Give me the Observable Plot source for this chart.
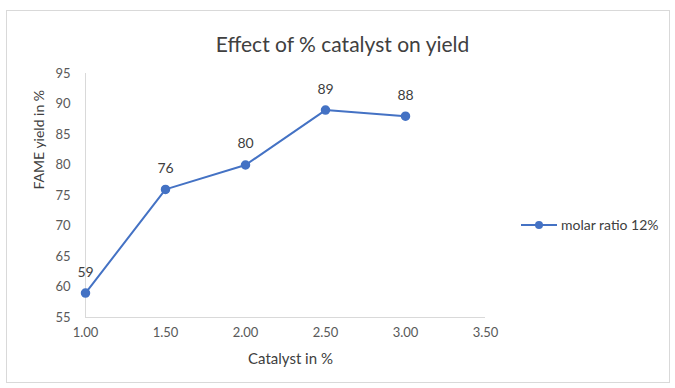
<!DOCTYPE html>
<html>
<head>
<meta charset="utf-8">
<script src="https://cdn.jsdelivr.net/npm/d3@7"></script>
<script src="https://cdn.jsdelivr.net/npm/@observablehq/plot@0.6"></script>
<style>
  html, body { margin: 0; padding: 0; background: #fff; }
  svg { display: block; }
</style>
</head>
<body>
<div id="chart"></div>
<script>
const catalyst = [1.0, 1.5, 2.0, 2.5, 3.0];
const yieldPct = [59, 76, 80, 89, 88];
const xTicks = [1.0, 1.5, 2.0, 2.5, 3.0, 3.5];
const yTicks = [55, 60, 65, 70, 75, 80, 85, 90, 95];
const seriesName = "molar ratio 12%";
const title = "Effect of % catalyst on yield";
const xLabel = "Catalyst in %";
const yLabel = "FAME yield in %";

const data = catalyst.map((c, i) => ({x: c, y: yieldPct[i]}));
const blue = "#4472C4";
const grey = "#595959";
const font = "Lato, 'Open Sans', sans-serif";

const chart = Plot.plot({
  width: 675,
  height: 388,
  marginLeft: 85,
  marginRight: 190,
  marginTop: 73,
  marginBottom: 71,
  style: {fontFamily: font, fontSize: "13px", color: grey, background: "#fff"},
  x: {domain: [1, 3.5], label: null},
  y: {domain: [55, 95], label: null},
  marks: [
    Plot.ruleY([55], {stroke: "#d9d9d9", strokeWidth: 1}),
    Plot.ruleX([1], {stroke: "#d9d9d9", strokeWidth: 1}),
    Plot.axisX({ticks: xTicks, tickFormat: d3.format(".2f"), tickSize: 0, tickPadding: 10, fill: grey, fontSize: 13, label: null}),
    Plot.axisY({ticks: yTicks, tickSize: 0, tickPadding: 15, fill: grey, fontSize: 13, label: null}),
    Plot.line(data, {x: "x", y: "y", stroke: blue, strokeWidth: 2}),
    Plot.dot(data, {x: "x", y: "y", r: 4, fill: blue, stroke: blue}),
    Plot.text(data, {x: "x", y: "y", text: d => String(d.y), dy: -21, fill: "#404040", fontSize: 14}),
    Plot.text([title], {frameAnchor: "top", dx: 57, dy: -36, fill: "#404040", fontSize: 21}),
    Plot.text([xLabel], {frameAnchor: "bottom", dx: 5, dy: 46, fill: "#404040", fontSize: 15}),
    Plot.text([yLabel], {frameAnchor: "left", dx: -46, dy: -6, rotate: -90, fill: "#404040", fontSize: 14})
  ]
});

const svg = d3.select(chart);
// outer chart border
svg.insert("rect", ":first-child")
  .attr("x", 6.5).attr("y", 10.5).attr("width", 663).attr("height", 372)
  .attr("fill", "#fff").attr("stroke", "#d9d9d9");

// legend
const lg = svg.append("g").attr("transform", "translate(521,225)");
lg.append("line").attr("x1", 0).attr("x2", 36).attr("y1", 0).attr("y2", 0)
  .attr("stroke", blue).attr("stroke-width", 2);
lg.append("circle").attr("cx", 18).attr("cy", 0).attr("r", 4).attr("fill", blue);
lg.append("text").attr("x", 40).attr("y", 0).attr("dy", "0.35em")
  .attr("text-anchor", "start")
  .attr("fill", "#404040").attr("font-size", 14).attr("font-family", font)
  .text(seriesName);

document.getElementById("chart").appendChild(chart);
</script>
</body>
</html>
